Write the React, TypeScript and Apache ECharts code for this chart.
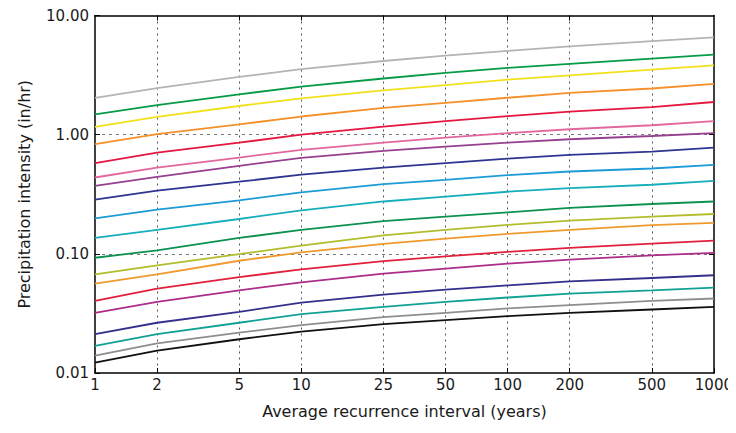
import React, { useEffect, useRef } from "react";
import * as echarts from "echarts";

// Average recurrence interval (years)
const returnPeriods = [1, 2, 5, 10, 25, 50, 100, 200, 500, 1000];
const xTickValues = [1, 2, 5, 10, 25, 50, 100, 200, 500, 1000];
const xGridValues = [2, 5, 10, 25, 50, 100, 200, 500];
const yTickValues = [0.01, 0.1, 1, 10];
const yGridValues = [0.1, 1];

// Precipitation intensity (in/hr) per duration
const d5min = [2.04, 2.46, 3.05, 3.55, 4.15, 4.6, 5.05, 5.5, 6.1, 6.55];
const d10min = [1.48, 1.77, 2.18, 2.53, 2.96, 3.3, 3.63, 3.92, 4.35, 4.7];
const d15min = [1.16, 1.41, 1.74, 2.02, 2.35, 2.6, 2.9, 3.15, 3.52, 3.82];
const d30min = [0.832, 1.01, 1.22, 1.42, 1.68, 1.85, 2.04, 2.24, 2.44, 2.67];
const d60min = [0.577, 0.708, 0.857, 1.0, 1.17, 1.3, 1.43, 1.56, 1.7, 1.88];
const d2hr = [0.437, 0.53, 0.643, 0.745, 0.857, 0.944, 1.03, 1.11, 1.2, 1.3];
const d3hr = [0.372, 0.443, 0.548, 0.638, 0.731, 0.794, 0.857, 0.915, 0.975, 1.03];
const d6hr = [0.285, 0.339, 0.403, 0.462, 0.53, 0.577, 0.63, 0.676, 0.72, 0.778];
const d12hr = [0.198, 0.235, 0.281, 0.328, 0.385, 0.418, 0.458, 0.491, 0.52, 0.558];
const d24hr = [0.136, 0.159, 0.196, 0.232, 0.275, 0.302, 0.332, 0.356, 0.38, 0.41];
const d2day = [0.0927, 0.107, 0.136, 0.159, 0.188, 0.205, 0.223, 0.243, 0.262, 0.275];
const d3day = [0.0673, 0.08, 0.0995, 0.117, 0.143, 0.159, 0.175, 0.19, 0.205, 0.216];
const d4day = [0.0562, 0.0673, 0.0875, 0.103, 0.121, 0.134, 0.147, 0.159, 0.174, 0.182];
const d7day = [0.0403, 0.0511, 0.0638, 0.074, 0.0869, 0.0951, 0.104, 0.112, 0.122, 0.129];
const d10day = [0.032, 0.0395, 0.0494, 0.0575, 0.0682, 0.0752, 0.0826, 0.0893, 0.097, 0.102];
const d20day = [0.0212, 0.0264, 0.0326, 0.0389, 0.0455, 0.0501, 0.0544, 0.0588, 0.0627, 0.0661];
const d30day = [0.0169, 0.0212, 0.0264, 0.0312, 0.0359, 0.0395, 0.043, 0.0464, 0.0494, 0.0521];
const d45day = [0.014, 0.0177, 0.0218, 0.0252, 0.0294, 0.032, 0.0348, 0.0371, 0.0403, 0.0422];
const d60day = [0.0122, 0.0154, 0.0192, 0.0222, 0.0257, 0.0278, 0.03, 0.032, 0.0341, 0.0359];

const durations = [
  { name: "5-min", values: d5min, color: "#b4b4b4" },
  { name: "10-min", values: d10min, color: "#079a47" },
  { name: "15-min", values: d15min, color: "#f2e11a" },
  { name: "30-min", values: d30min, color: "#f5902a" },
  { name: "60-min", values: d60min, color: "#e5173f" },
  { name: "2-hr", values: d2hr, color: "#e2679f" },
  { name: "3-hr", values: d3hr, color: "#96418f" },
  { name: "6-hr", values: d6hr, color: "#2f3490" },
  { name: "12-hr", values: d12hr, color: "#1c9bd7" },
  { name: "24-hr", values: d24hr, color: "#17aebb" },
  { name: "2-day", values: d2day, color: "#0d9150" },
  { name: "3-day", values: d3day, color: "#b2bd2c" },
  { name: "4-day", values: d4day, color: "#ef9a2c" },
  { name: "7-day", values: d7day, color: "#e0203c" },
  { name: "10-day", values: d10day, color: "#ad2d8a" },
  { name: "20-day", values: d20day, color: "#342f8c" },
  { name: "30-day", values: d30day, color: "#10a195" },
  { name: "45-day", values: d45day, color: "#8e8e8e" },
  { name: "60-day", values: d60day, color: "#101010" },
];

const FONT = "DejaVu Sans";

export default function App() {
  const ref = useRef<HTMLDivElement>(null);
  useEffect(() => {
    if (!ref.current) return;
    const chart = echarts.init(ref.current, undefined, { renderer: "svg" });
    const tickStyle = { show: true, inside: true, length: 5, lineStyle: { color: "#000", width: 1 } };
    const axisLine = { show: true, lineStyle: { color: "#000", width: 1.5 } };
    chart.setOption({
      animation: false,
      backgroundColor: "#fff",
      grid: { left: 81, right: 16, top: 6, bottom: 60, containLabel: false },
      xAxis: [
        {
          type: "log",
          logBase: 10,
          min: 1,
          max: 1000,
          position: "bottom",
          name: "Average recurrence interval (years)",
          nameLocation: "middle",
          nameGap: 30,
          nameTextStyle: { fontFamily: FONT, fontSize: 16, color: "#1a1a1a" },
          axisLine,
          axisTick: { ...tickStyle, customValues: xTickValues },
          axisLabel: {
            customValues: xTickValues,
            fontFamily: FONT,
            fontSize: 15,
            color: "#1a1a1a",
            margin: 4,
            formatter: (v: number) => String(Math.round(v)),
          },
          splitLine: { show: false },
          minorTick: { show: false },
        },
        {
          type: "log",
          logBase: 10,
          min: 1,
          max: 1000,
          position: "top",
          axisLine,
          axisTick: { ...tickStyle, customValues: xGridValues },
          axisLabel: { show: false },
          splitLine: { show: true, lineStyle: { color: "#555", type: [2, 4], width: 1 } },
        },
      ],
      yAxis: [
        {
          type: "log",
          logBase: 10,
          min: 0.01,
          max: 10,
          position: "left",
          name: "Precipitation intensity (in/hr)",
          nameLocation: "middle",
          nameGap: 63,
          nameTextStyle: { fontFamily: FONT, fontSize: 16, color: "#1a1a1a" },
          axisLine,
          axisTick: { ...tickStyle, customValues: yTickValues },
          axisLabel: {
            customValues: yTickValues,
            fontFamily: FONT,
            fontSize: 15,
            color: "#1a1a1a",
            margin: 6,
            formatter: (v: number) => v.toFixed(2),
          },
          splitLine: { show: false },
        },
        {
          type: "log",
          logBase: 10,
          min: 0.01,
          max: 10,
          position: "right",
          axisLine,
          axisTick: { ...tickStyle, customValues: yGridValues },
          axisLabel: { show: false },
          splitLine: { show: true, lineStyle: { color: "#777", type: [3, 4], width: 1 } },
        },
      ],
      series: durations.map((d) => ({
        name: d.name,
        type: "line",
        xAxisIndex: 0,
        yAxisIndex: 0,
        showSymbol: false,
        symbol: "none",
        smooth: false,
        z: 3,
        lineStyle: { color: d.color, width: 1.8 },
        data: returnPeriods.map((x, i) => [x, d.values[i]]),
      })),
    });
    return () => chart.dispose();
  }, []);
  return <div ref={ref} style={{ width: 728, height: 425 }} />;
}
